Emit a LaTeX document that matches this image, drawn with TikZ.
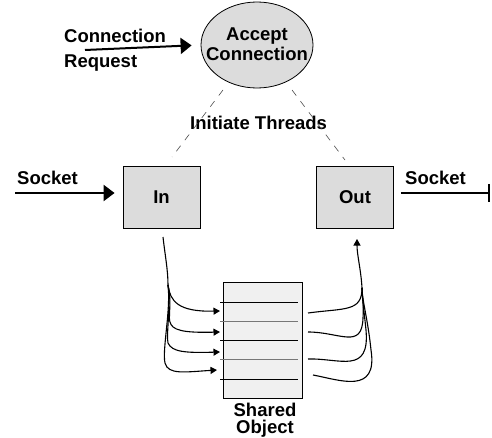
\documentclass[tikz,border=0pt]{standalone}
\usepackage{fontspec}
\setmainfont{Liberation Sans}
\usetikzlibrary{arrows.meta,shapes.geometric}
\definecolor{boxgray}{HTML}{DCDCDC}
\definecolor{objgray}{HTML}{F0F0F0}
\definecolor{linegray}{HTML}{777777}
\begin{document}
\begin{tikzpicture}[x=1pt,y=-1pt,
  lbl/.style={font=\bfseries\fontsize{18.5}{20}\selectfont, inner sep=0pt},
  procbox/.style={draw, line width=0.8pt, fill=boxgray, minimum width=77pt, minimum height=62pt, inner sep=0pt, font=\bfseries\fontsize{18.5}{20}\selectfont},
  bigarrow/.style={line width=2pt, -{Triangle[length=11pt,width=16pt]}},
  thinarrow/.style={line width=1.1pt, -{Triangle[length=6.5pt,width=7pt]}},
  thinline/.style={line width=1.1pt},
  threadline/.style={line width=0.6pt, draw=black!70, dash pattern=on 7pt off 7pt}]
\useasboundingbox (0,0) rectangle (492,438);

% nodes
\node[ellipse, draw, line width=0.8pt, fill=boxgray, minimum width=112pt, minimum height=86pt, inner sep=0pt] (accept) at (257,45) {};
\node[lbl, anchor=base] (acc1) at (257,41) {Accept};
\node[lbl, anchor=base] (acc2) at (257,61) {Connection};
\node[lbl, anchor=base west] (creq1) at (64,43) {Connection};
\node[lbl, anchor=base west] (creq2) at (64,68) {Request};
\node[procbox] (in) at (161.5,197) {In};
\node[procbox] (out) at (355,197) {Out};
\node[lbl, anchor=base west] (sockL) at (17,185) {Socket};
\node[lbl, anchor=base west] (sockR) at (405,185) {Socket};
\node[lbl, anchor=base west] (threads) at (190,130) {Initiate Threads};
\node[draw, line width=0.8pt, fill=objgray, minimum width=79pt, minimum height=116pt, inner sep=0pt] (shared) at (262.5,340) {};
\node[lbl, anchor=base] (sh1) at (265,416.5) {Shared};
\node[lbl, anchor=base] (sh2) at (265,433.5) {Object};

% coordinates
\coordinate (creqstart) at (85,50);
\coordinate (sockLstart) at (15,193);
\coordinate (sockRend) at (490,193);
\coordinate (dL1) at (223,90);
\coordinate (dL2) at (172,157);
\coordinate (dR1) at (292,90);
\coordinate (dR2) at (345,160);

% main arrows
\draw[bigarrow, shorten >=9pt] (creqstart) -- (accept.west);
\draw[bigarrow, shorten >=8pt] (sockLstart) -- (in.west |- sockLstart);
\draw[line width=2pt, -{Bar[width=18pt,line width=2pt]}, shorten <=7pt] (out.east |- sockRend) -- (sockRend);

% dashed thread lines
\draw[threadline] (dL1) -- (dL2);
\draw[threadline] (dR1) -- (dR2);

% shared object slots
\foreach \yy/\cc in {302/black, 321/linegray, 340/black, 359/linegray, 379/black}
  \draw[line width=1pt, draw=\cc] (220,\yy) -- (298,\yy);

% left curves (in -> shared)
\coordinate (inTop) at (163,237);
\coordinate (inK) at (168,285);
\coordinate (tL1) at (220,311);
\coordinate (tL2) at (220,332);
\coordinate (tL3) at (220,352);
\coordinate (tL4) at (217,370);
\draw[thinline] (inTop) .. controls (165,255) and (168,270) .. (inK);
\draw[thinarrow] (inK) .. controls (170,301) and (178,312) .. (tL1);
\draw[thinarrow] (inK) .. controls (172,300) and (168,320) .. (170,322) .. controls (172,330) and (182,333) .. (tL2);
\draw[thinarrow] (inK) .. controls (171,305) and (166,335) .. (168,343) .. controls (172,352) and (185,353) .. (tL3);
\draw[thinarrow] (inK) .. controls (171,310) and (162,350) .. (165,363) .. controls (168,375) and (185,372) .. (tL4);

% right curves (shared -> out)
\coordinate (outTip) at (357,239);
\coordinate (outJ) at (362,288);
\coordinate (sR1) at (308,313);
\coordinate (sR2) at (308,332);
\coordinate (sR3) at (308,359);
\coordinate (sR4) at (313,375);
\draw[thinarrow] (outJ) .. controls (361,270) and (357,255) .. (outTip);
\draw[thinline] (sR1) .. controls (345,308) and (362,312) .. (outJ);
\draw[thinline] (sR2) .. controls (340,332) and (362,350) .. (363,318) .. controls (364,305) and (362,295) .. (outJ);
\draw[thinline] (sR3) .. controls (340,358) and (370,375) .. (366,330) .. controls (364,310) and (362,298) .. (outJ);
\draw[thinline] (sR4) .. controls (340,380) and (378,395) .. (371,350) .. controls (368,320) and (362,300) .. (outJ);
\end{tikzpicture}
\end{document}
